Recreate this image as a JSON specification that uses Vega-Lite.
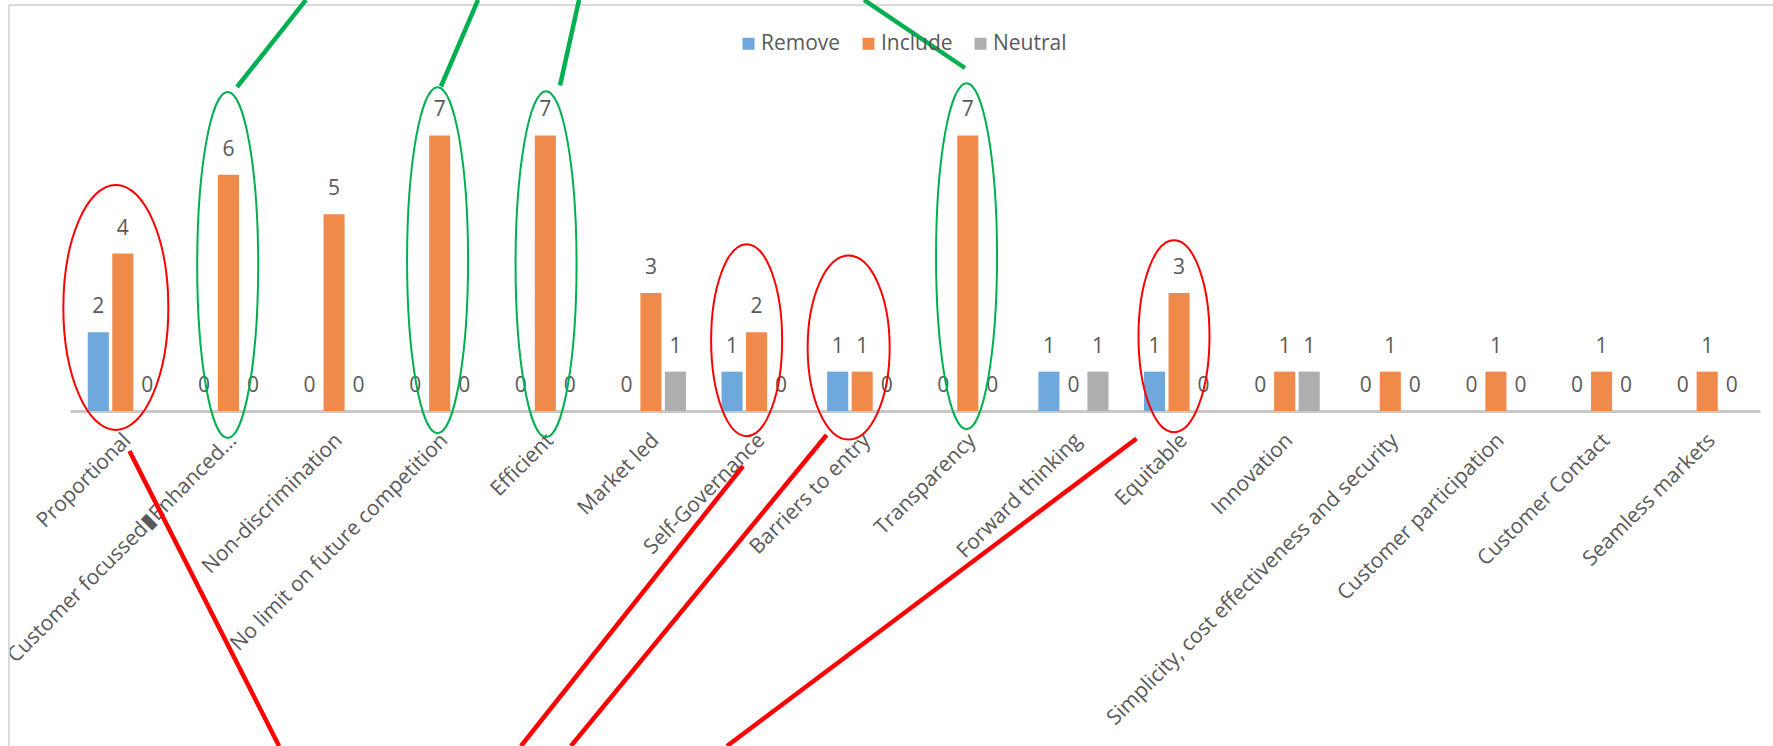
{
  "$schema": "https://vega.github.io/schema/vega-lite/v6.json",
  "width": 1690,
  "height": 315,
  "autosize": "none",
  "padding": {"left": 70, "top": 96, "right": 13, "bottom": 335},
  "background": "white",
  "config": {"view": {"stroke": null}, "font": "Open Sans"},
  "datasets": {
    "counts": [
      {"criterion": "Proportional", "view": "Remove", "count": 2},
      {"criterion": "Proportional", "view": "Include", "count": 4},
      {"criterion": "Proportional", "view": "Neutral", "count": 0},
      {"criterion": "Customer focussed▮Enhanced...", "view": "Remove", "count": 0},
      {"criterion": "Customer focussed▮Enhanced...", "view": "Include", "count": 6},
      {"criterion": "Customer focussed▮Enhanced...", "view": "Neutral", "count": 0},
      {"criterion": "Non-discrimination", "view": "Remove", "count": 0},
      {"criterion": "Non-discrimination", "view": "Include", "count": 5},
      {"criterion": "Non-discrimination", "view": "Neutral", "count": 0},
      {"criterion": "No limit on future competition", "view": "Remove", "count": 0},
      {"criterion": "No limit on future competition", "view": "Include", "count": 7},
      {"criterion": "No limit on future competition", "view": "Neutral", "count": 0},
      {"criterion": "Efficient", "view": "Remove", "count": 0},
      {"criterion": "Efficient", "view": "Include", "count": 7},
      {"criterion": "Efficient", "view": "Neutral", "count": 0},
      {"criterion": "Market led", "view": "Remove", "count": 0},
      {"criterion": "Market led", "view": "Include", "count": 3},
      {"criterion": "Market led", "view": "Neutral", "count": 1},
      {"criterion": "Self-Governance", "view": "Remove", "count": 1},
      {"criterion": "Self-Governance", "view": "Include", "count": 2},
      {"criterion": "Self-Governance", "view": "Neutral", "count": 0},
      {"criterion": "Barriers to entry", "view": "Remove", "count": 1},
      {"criterion": "Barriers to entry", "view": "Include", "count": 1},
      {"criterion": "Barriers to entry", "view": "Neutral", "count": 0},
      {"criterion": "Transparency", "view": "Remove", "count": 0},
      {"criterion": "Transparency", "view": "Include", "count": 7},
      {"criterion": "Transparency", "view": "Neutral", "count": 0},
      {"criterion": "Forward thinking", "view": "Remove", "count": 1},
      {"criterion": "Forward thinking", "view": "Include", "count": 0},
      {"criterion": "Forward thinking", "view": "Neutral", "count": 1},
      {"criterion": "Equitable", "view": "Remove", "count": 1},
      {"criterion": "Equitable", "view": "Include", "count": 3},
      {"criterion": "Equitable", "view": "Neutral", "count": 0},
      {"criterion": "Innovation", "view": "Remove", "count": 0},
      {"criterion": "Innovation", "view": "Include", "count": 1},
      {"criterion": "Innovation", "view": "Neutral", "count": 1},
      {"criterion": "Simplicity, cost effectiveness and security", "view": "Remove", "count": 0},
      {"criterion": "Simplicity, cost effectiveness and security", "view": "Include", "count": 1},
      {"criterion": "Simplicity, cost effectiveness and security", "view": "Neutral", "count": 0},
      {"criterion": "Customer participation", "view": "Remove", "count": 0},
      {"criterion": "Customer participation", "view": "Include", "count": 1},
      {"criterion": "Customer participation", "view": "Neutral", "count": 0},
      {"criterion": "Customer Contact", "view": "Remove", "count": 0},
      {"criterion": "Customer Contact", "view": "Include", "count": 1},
      {"criterion": "Customer Contact", "view": "Neutral", "count": 0},
      {"criterion": "Seamless markets", "view": "Remove", "count": 0},
      {"criterion": "Seamless markets", "view": "Include", "count": 1},
      {"criterion": "Seamless markets", "view": "Neutral", "count": 0}
    ],
    "rings": [
      {"ring": "B", "pos": 0.434, "level": 2.63},
      {"ring": "A", "pos": 1.493, "level": 3.71},
      {"ring": "A", "pos": 3.48, "level": 3.83},
      {"ring": "A", "pos": 4.507, "level": 3.73},
      {"ring": "C", "pos": 6.406, "level": 1.8},
      {"ring": "D", "pos": 7.372, "level": 1.61},
      {"ring": "A", "pos": 8.488, "level": 3.93},
      {"ring": "C", "pos": 10.452, "level": 1.9}
    ],
    "links": [
      {"set": "kept", "p1": 1.581, "v1": 8.229, "p2": 2.234, "v2": 10.44},
      {"set": "kept", "p1": 3.512, "v1": 8.241, "p2": 3.863, "v2": 10.44},
      {"set": "kept", "p1": 4.639, "v1": 8.267, "p2": 4.819, "v2": 10.44},
      {"set": "kept", "p1": 8.473, "v1": 8.711, "p2": 7.517, "v2": 10.44},
      {"set": "dropped", "p1": 0.563, "v1": -1.016, "p2": 1.979, "v2": -8.508},
      {"set": "dropped", "p1": 6.372, "v1": -1.397, "p2": 4.27, "v2": -8.508},
      {"set": "dropped", "p1": 7.163, "v1": -0.61, "p2": 4.743, "v2": -8.508},
      {"set": "dropped", "p1": 10.098, "v1": -0.698, "p2": 6.22, "v2": -8.508}
    ],
    "frame": [
      {"p1": -0.578, "v1": 10.311, "p2": 16.3, "v2": 10.311},
      {"p1": -0.578, "v1": 10.311, "p2": -0.578, "v2": -9}
    ]
  },
  "layer": [
    {
      "data": {"name": "frame"},
      "mark": {"type": "rule", "color": "#D9D9D9", "strokeWidth": 2},
      "encoding": {
        "x": {"field": "p1", "type": "quantitative", "scale": {"domain": [0, 16], "nice": false, "zero": false}, "axis": null},
        "x2": {"field": "p2"},
        "y": {"field": "v1", "type": "quantitative", "scale": {"domain": [0, 8], "nice": false}, "axis": null},
        "y2": {"field": "v2"}
      }
    },
    {
      "data": {"name": "counts"},
      "encoding": {
        "x": {
          "field": "criterion", "type": "nominal", "sort": null,
          "scale": {"paddingInner": 0.304, "paddingOuter": 0.152},
          "axis": {
            "title": null, "domain": true, "domainColor": "#C8C8C8", "domainWidth": 3,
            "ticks": false, "labelAngle": -45, "labelAlign": "right", "labelBaseline": "middle",
            "labelFontSize": 21, "labelColor": "#595959",
            "labelPadding": 26, "labelOffset": 5, "labelLimit": 700, "labelOverlap": false
          }
        },
        "xOffset": {"field": "view", "type": "nominal", "scale": {"domain": ["Remove", "Include", "Neutral"], "paddingInner": 0.14, "paddingOuter": 0.07}},
        "y": {
          "field": "count", "type": "quantitative",
          "scale": {"domain": [0, 8], "nice": false},
          "axis": {
            "title": null, "values": [0, 1, 2, 3, 4, 5, 6, 7, 8], "domain": false, "ticks": false, "grid": false,
            "labelFontSize": 21, "labelColor": "#595959", "labelPadding": 19
          }
        }
      },
      "layer": [
        {
          "mark": {"type": "bar"},
          "encoding": {
            "color": {
              "field": "view", "type": "nominal",
              "scale": {"domain": ["Remove", "Include", "Neutral"], "range": ["#6FA8DC", "#F08A4B", "#AEAEAE"]},
              "legend": {
                "title": null, "orient": "none", "direction": "horizontal",
                "legendX": 668, "legendY": -63,
                "symbolType": "square", "symbolSize": 144, "symbolStrokeWidth": 0,
                "labelFontSize": 21, "labelColor": "#595959", "labelOffset": 2, "columnPadding": 17
              }
            }
          }
        },
        {
          "mark": {"type": "text", "dy": -25, "fontSize": 21, "color": "#595959"},
          "encoding": {"text": {"field": "count", "type": "quantitative"}}
        }
      ]
    },
    {
      "data": {"name": "rings"},
      "transform": [{"filter": "datum.ring === 'A'"}],
      "mark": {"type": "point", "shape": "M0,-1C0.0974,-1,0.1763,-0.5523,0.1763,0C0.1763,0.5523,0.0974,1,0,1C-0.0974,1,-0.1763,0.5523,-0.1763,0C-0.1763,-0.5523,-0.0974,-1,0,-1Z", "size": 119716, "filled": false, "color": "#00B050", "strokeWidth": 2, "opacity": 1},
      "encoding": {
        "x": {"field": "pos", "type": "quantitative", "scale": {"domain": [0, 16], "nice": false, "zero": false}, "axis": null},
        "y": {"field": "level", "type": "quantitative", "scale": {"domain": [0, 8], "nice": false}, "axis": null}
      }
    },
    {
      "data": {"name": "rings"},
      "transform": [{"filter": "datum.ring === 'B'"}],
      "mark": {"type": "point", "shape": "M0,-1C0.2367,-1,0.4286,-0.5523,0.4286,0C0.4286,0.5523,0.2367,1,0,1C-0.2367,1,-0.4286,0.5523,-0.4286,0C-0.4286,-0.5523,-0.2367,-1,0,-1Z", "size": 60025, "filled": false, "color": "#FF0000", "strokeWidth": 2, "opacity": 1},
      "encoding": {
        "x": {"field": "pos", "type": "quantitative", "scale": {"domain": [0, 16], "nice": false, "zero": false}, "axis": null},
        "y": {"field": "level", "type": "quantitative", "scale": {"domain": [0, 8], "nice": false}, "axis": null}
      }
    },
    {
      "data": {"name": "rings"},
      "transform": [{"filter": "datum.ring === 'C'"}],
      "mark": {"type": "point", "shape": "M0,-1C0.2042,-1,0.3698,-0.5523,0.3698,0C0.3698,0.5523,0.2042,1,0,1C-0.2042,1,-0.3698,0.5523,-0.3698,0C-0.3698,-0.5523,-0.2042,-1,0,-1Z", "size": 36864, "filled": false, "color": "#FF0000", "strokeWidth": 2, "opacity": 1},
      "encoding": {
        "x": {"field": "pos", "type": "quantitative", "scale": {"domain": [0, 16], "nice": false, "zero": false}, "axis": null},
        "y": {"field": "level", "type": "quantitative", "scale": {"domain": [0, 8], "nice": false}, "axis": null}
      }
    },
    {
      "data": {"name": "rings"},
      "transform": [{"filter": "datum.ring === 'D'"}],
      "mark": {"type": "point", "shape": "M0,-1C0.2462,-1,0.4457,-0.5523,0.4457,0C0.4457,0.5523,0.2462,1,0,1C-0.2462,1,-0.4457,0.5523,-0.4457,0C-0.4457,-0.5523,-0.2462,-1,0,-1Z", "size": 33856, "filled": false, "color": "#FF0000", "strokeWidth": 2, "opacity": 1},
      "encoding": {
        "x": {"field": "pos", "type": "quantitative", "scale": {"domain": [0, 16], "nice": false, "zero": false}, "axis": null},
        "y": {"field": "level", "type": "quantitative", "scale": {"domain": [0, 8], "nice": false}, "axis": null}
      }
    },
    {
      "data": {"name": "links"},
      "transform": [{"filter": "datum.set === 'kept'"}],
      "mark": {"type": "rule", "color": "#00B050", "strokeWidth": 4.5},
      "encoding": {
        "x": {"field": "p1", "type": "quantitative", "scale": {"domain": [0, 16], "nice": false, "zero": false}, "axis": null},
        "x2": {"field": "p2"},
        "y": {"field": "v1", "type": "quantitative", "scale": {"domain": [0, 8], "nice": false}, "axis": null},
        "y2": {"field": "v2"}
      }
    },
    {
      "data": {"name": "links"},
      "transform": [{"filter": "datum.set === 'dropped'"}],
      "mark": {"type": "rule", "color": "#FF0000", "strokeWidth": 4.5},
      "encoding": {
        "x": {"field": "p1", "type": "quantitative", "scale": {"domain": [0, 16], "nice": false, "zero": false}, "axis": null},
        "x2": {"field": "p2"},
        "y": {"field": "v1", "type": "quantitative", "scale": {"domain": [0, 8], "nice": false}, "axis": null},
        "y2": {"field": "v2"}
      }
    }
  ],
  "resolve": {"scale": {"x": "independent"}}
}
